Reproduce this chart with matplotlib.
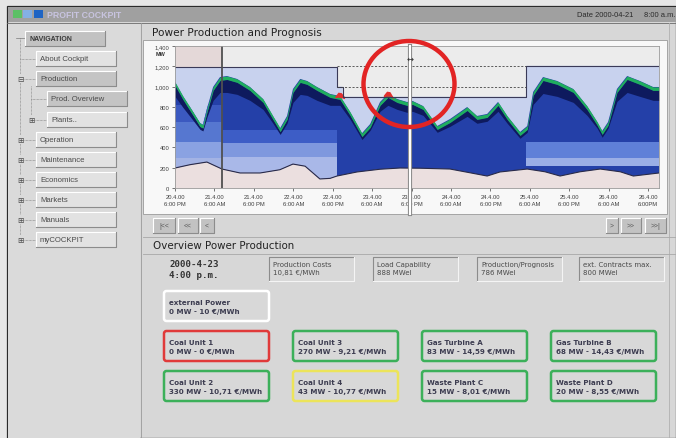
import matplotlib
matplotlib.use("Agg")
import matplotlib.pyplot as plt
from matplotlib.patches import Rectangle, Ellipse, FancyBboxPatch
import numpy as np

# ---- chart data (hours after 20.4.00 6:00 PM, MW) ----
top_t = [0.0, 2.4, 5.5, 7.6, 8.5, 9.7, 11.6, 13.7, 15.8, 18.9, 22.8, 26.8, 29.8, 32.0, 34.1,
         35.9, 38.1, 40.2, 43.2, 47.2, 50.2, 53.3, 56.9, 59.4, 62.4, 64.8, 67.6, 70.6, 72.3,
         75.5, 79.8, 83.7, 88.9, 91.9, 95.0, 98.3, 101.1, 105.0, 107.2, 109.0, 112.0, 116.3,
         121.2, 125.4, 128.5, 130.0, 131.8, 134.5, 137.6, 141.5, 145.5, 147.3]
top_mw = [1045, 907, 749, 640, 625, 779, 996, 1094, 1104, 1075, 996, 877, 710, 590, 710,
          976, 1075, 1055, 996, 927, 907, 749, 540, 631, 848, 927, 877, 848, 858,
          808, 611, 680, 798, 710, 730, 848, 710, 552, 611, 947, 1094, 1055,
          976, 808, 651, 562, 651, 976, 1104, 1055, 996, 996]
navy_mw = [110, 80, 50, 30, 30, 50, 100, 120, 130, 120, 100, 70, 40, 30, 40,
           100, 120, 110, 100, 80, 60, 40, 30, 30, 60, 80, 70, 70, 70,
           60, 30, 40, 60, 40, 40, 60, 40, 30, 30, 90, 130, 120,
           100, 60, 30, 30, 30, 90, 130, 120, 100, 100]
low_t = [0.0, 4.6, 9.7, 14.3, 19.8, 25.9, 31.9, 35.9, 39.6, 44.1, 47.2, 49.3, 55.4, 62.4,
         68.5, 74.5, 83.7, 89.8, 95.0, 98.9, 107.2, 112.6, 117.2, 123.3, 129.4, 135.5, 139.5, 147.3]
low_mw = [197, 230, 256, 187, 148, 148, 180, 236, 215, 89, 95, 118, 158, 185,
          197, 195, 187, 150, 118, 158, 187, 160, 118, 160, 187, 160, 118, 148]
cap_t = [0.0, 49.3, 49.3, 51.0, 51.0, 106.9, 106.9, 147.3]
cap_mw = [1190, 1190, 1000, 1000, 900, 900, 1205, 1205]
# constant unit bands inside the stack: start, end, from MW, to MW
band_t0 = [0.0, 0.0, 0.0, 0.0, 14.3, 14.3, 14.3, 106.9, 106.9]
band_t1 = [14.3, 14.3, 14.3, 14.3, 49.3, 49.3, 49.3, 147.3, 147.3]
band_lo = [0, 300, 450, 650, 0, 305, 440, 220, 300]
band_hi = [300, 450, 650, 820, 305, 440, 570, 300, 450]
band_col = ['#a3b3e4', '#8aa2e2', '#5677d0', '#3b59c0', '#a9b8e8', '#7f98de', '#3d5dc6',
            '#9aaee6', '#5f80d8']
red_t1 = [48.6, 49.6, 50.6, 51.6]
red_lo1 = [890, 895, 890, 880]
red_hi1 = [900, 945, 940, 900]
red_t2 = [63.4, 64.4, 65.4, 66.4]
red_lo2 = [900, 905, 905, 880]
red_hi2 = [915, 955, 950, 895]
now_t = 14.3
cursor_t = 71.5
tick_hours = [0, 12, 24, 36, 48, 60, 72, 84, 96, 108, 120, 132, 144]
tick_labels = ["20.4.00\n6:00 PM", "21.4.00\n6:00 AM", "21.4.00\n6:00 PM", "22.4.00\n6:00 AM",
               "22.4.00\n6:00 PM", "23.4.00\n6:00 AM", "23.4.00\n6:00 PM", "24.4.00\n6:00 AM",
               "24.4.00\n6:00 PM", "25.4.00\n6:00 AM", "25.4.00\n6:00 PM", "26.4.00\n6:00 AM",
               "26.4.00\n6:00PM"]
y_ticks = [0, 200, 400, 600, 800, 1000, 1200, 1400]

# ---- dashboard texts ----
nav_items = ["About Cockpit", "Production", "Prod. Overview", "Plants..", "Operation",
             "Maintenance", "Economics", "Markets", "Manuals", "myCOCKPIT"]
nav_level = [0, 0, 1, 1, 0, 0, 0, 0, 0, 0]
nav_dark = [False, True, True, False, False, False, False, False, False, False]
info_titles = ["Production Costs", "Load Capability", "Production/Prognosis", "ext. Contracts max."]
info_values = ["10,81 €/MWh", "888 MWel", "786 MWel", "800 MWel"]
units = ["Coal Unit 1", "Coal Unit 3", "Gas Turbine A", "Gas Turbine B",
         "Coal Unit 2", "Coal Unit 4", "Waste Plant C", "Waste Plant D"]
unit_mw = [0, 270, 83, 68, 330, 43, 15, 20]
unit_cost = ["0", "9,21", "14,59", "14,43", "10,71", "10,77", "8,01", "8,55"]
unit_state = ["red", "green", "green", "green", "green", "yellow", "green", "green"]
state_col = {"red": "#e03a3a", "green": "#3cb05a", "yellow": "#ece45a", "white": "#ffffff"}

W, H = 676, 439
fig = plt.figure(figsize=(W / 100, H / 100), dpi=100)
fig.patch.set_facecolor('#e6e6e6')

bg = fig.add_axes([0, 0, 1, 1], zorder=0)
bg.set_xlim(0, W)
bg.set_ylim(H, 0)
bg.axis('off')


def rect(a, x0, y0, x1, y1, fc, ec='none', lw=0.6, z=1):
    a.add_patch(Rectangle((x0, y0), x1 - x0, y1 - y0, fc=fc, ec=ec, lw=lw, zorder=z))


def box3d(a, x0, y0, x1, y1, fc, raised=True, z=2):
    rect(a, x0, y0, x1, y1, fc, z=z)
    hi, lo = ('#ffffff', '#8c8c8c') if raised else ('#8c8c8c', '#f4f4f4')
    a.plot([x0, x0, x1], [y1, y0, y0], color=hi, lw=0.8, zorder=z + 0.1)
    a.plot([x0, x1, x1], [y1, y1, y0], color=lo, lw=0.8, zorder=z + 0.1)


# frame + main areas
rect(bg, 7, 7, W, H, '#d7d7d7', ec='#2a2a2a', lw=0.9)
rect(bg, 7.5, 8, W, 23, '#a0a0a0')
bg.plot([7, W], [23.5, 23.5], color='#6a6a6a', lw=0.6)
rect(bg, 7.5, 24, 140, H, '#dadada')
bg.plot([140.5, 140.5], [24, H], color='#9a9a9a', lw=0.6)
for x0, c in zip([13, 23, 34], ['#5cc066', '#84b0e4', '#1e64c4']):
    rect(bg, x0, 11, x0 + 9, 19, c, z=2)
bg.text(47, 15.5, "PROFIT COCKPIT", fontsize=6.3, color='#c8c4e0', weight='bold',
        family='Liberation Sans', va='center')
bg.text(577, 15.5, "Date 2000-04-21     8:00 a.m.", fontsize=5.4, color='#2a2a2a',
        family='Liberation Sans', va='center')

# navigation
box3d(bg, 25, 32, 105, 47, '#c2c2c2')
bg.text(30, 39.5, "NAVIGATION", fontsize=5, weight='bold', color='#3a3a3a',
        family='Liberation Sans', va='center', zorder=3)
bg.plot([20, 20], [39, 240], color='#7a7a7a', lw=0.5, ls=(0, (1, 1)))
bg.plot([16, 25], [39, 39], color='#7a7a7a', lw=0.5)
bg.plot([31, 31], [87, 120], color='#7a7a7a', lw=0.5, ls=(0, (1, 1)))
tops = [52, 72, 92, 113, 133, 153, 173, 193, 213, 233]
for lab, lev, dark, yt in zip(nav_items, nav_level, nav_dark, tops):
    x0 = 36 if lev == 0 else 47
    yc = yt + 7.5
    box3d(bg, x0, yt, x0 + 80, yt + 15, '#c4c4c4' if dark else '#e2e2e2')
    bg.text(x0 + 4, yc, lab, fontsize=5.6, color='#4a4a4a', family='Liberation Sans',
            va='center', zorder=3)
    bg.plot([20 if lev == 0 else 31, x0], [yc, yc], color='#7a7a7a', lw=0.5, ls=(0, (1, 1)))
    sign = None
    if lab == "Production":
        sign = '⊟'
    elif lab == "Plants.." or (lev == 0 and lab != "About Cockpit"):
        sign = '⊞'
    if sign:
        bg.text(20 if lev == 0 else 31, yc, sign, fontsize=5.5, ha='center', va='center',
                color='#4a4a4a', zorder=3, bbox=dict(fc='#dadada', ec='none', pad=0))

# chart panel
bg.text(152, 33, "Power Production and Prognosis", fontsize=7.6, color='#222222',
        family='DejaVu Sans', va='center')
rect(bg, 143, 41, 667, 215, '#f8f8f8', ec='#9a9a9a', lw=0.6)
bg.plot([669, 669], [24, H], color='#b0b0b0', lw=0.6)
bg.text(156, 54, "MW", fontsize=4, weight='bold', color='#333333', va='center',
        family='Liberation Sans')
for (x0, x1), lab in zip([(153, 175), (178, 198), (200, 214), (606, 618), (621, 641), (645, 666)],
                         ["|<<", "<<", "<", ">", ">>", ">>|"]):
    box3d(bg, x0, 219, x1, 234, '#c2c2c2')
    bg.text((x0 + x1) / 2, 226.5, lab, fontsize=4.8, ha='center', va='center',
            color='#555555', zorder=3, family='Liberation Sans')
bg.plot([143, W], [237.5, 237.5], color='#a8a8a8', lw=0.6)
bg.text(153, 246, "Overview Power Production", fontsize=7.4, color='#222222', va='center',
        family='DejaVu Sans')
bg.plot([143, W], [254.5, 254.5], color='#a8a8a8', lw=0.6)

# overview
bg.text(169, 265, "2000-4-23", fontsize=6.6, weight='bold', color='#333333',
        family='DejaVu Sans Mono', va='center')
bg.text(169, 276, "4:00 p.m.", fontsize=6.6, weight='bold', color='#333333',
        family='DejaVu Sans Mono', va='center')
for x0, t1, t2 in zip([269, 373, 477, 579], info_titles, info_values):
    box3d(bg, x0, 258, x0 + 85, 282, '#d8d8d8', raised=False)
    bg.text(x0 + 4, 265, t1, fontsize=5, color='#4a4a4a', va='center', zorder=3)
    bg.text(x0 + 4, 273, t2, fontsize=5, color='#4a4a4a', va='center', zorder=3)


def unit_box(x0, y0, name, line2, col):
    bg.add_patch(FancyBboxPatch((x0, y0), 105, 30, boxstyle='round,pad=0,rounding_size=2.5',
                                fc='#d8d8d8', ec=col, lw=1.8, zorder=2))
    bg.text(x0 + 5, y0 + 11, name, fontsize=5.1, weight='bold', color='#3c3c50',
            va='center', zorder=3)
    bg.text(x0 + 5, y0 + 20, line2, fontsize=5.1, weight='bold', color='#3c3c50',
            va='center', zorder=3)


unit_box(164, 292, "external Power", "0 MW - 10 €/MWh", state_col["white"])
for i, (n, mw, c, s) in enumerate(zip(units, unit_mw, unit_cost, unit_state)):
    unit_box([164, 293, 422, 551][i % 4], [332, 372][i // 4], n, f"{mw} MW - {c} €/MWh",
             state_col[s])

# ---- the chart ----
ax = fig.add_axes([175 / W, 1 - 189 / H, 484 / W, 142 / H], zorder=1)
ax.set_facecolor('#ececec')
ax.set_xlim(0, 147.3)
ax.set_ylim(0, 1400)
ax.axvspan(0, now_t, color='#e4d8d8', lw=0)
ax.fill(low_t + cap_t[::-1], low_mw + cap_mw[::-1], color='#c8d2ee', lw=0)
ax.fill_between(low_t, 0, low_mw, color='#ebdfdf', lw=0)
stack = ax.fill(top_t + low_t[::-1], top_mw + low_mw[::-1], color='#2440a8', lw=0)[0]
for t0, t1, lo, hi, c in zip(band_t0, band_t1, band_lo, band_hi, band_col):
    b = ax.fill_between([t0, t1], [lo, lo], [hi, hi], color=c, lw=0)
    b.set_clip_path(stack)
tt = np.array(top_t)
tm = np.array(top_mw)
ax.fill_between(tt, tm - 32 - np.array(navy_mw), tm - 32, color='#0e1a5e', lw=0)
ax.fill_between(tt, tm - 34, tm, color='#1fae5e', lw=0)
ax.fill_between(red_t1, red_lo1, red_hi1, color='#e2302e', lw=0)
ax.fill_between(red_t2, red_lo2, red_hi2, color='#e2302e', lw=0)
ax.plot(cap_t, cap_mw, color='#3a3a58', lw=0.8)
ax.plot(low_t, low_mw, color='#2a2a48', lw=0.8)
ax.hlines([1200, 1000], 49.3, 106.9, colors='#444444', lw=0.6, linestyles=(0, (2.5, 2)))
ax.axvline(now_t, color='#505050', lw=1.3)
ax.plot([cursor_t, cursor_t], [-255, 1400], color='#8a8a8a', lw=3, clip_on=False, zorder=5)
ax.plot([cursor_t, cursor_t], [-255, 1400], color='#ffffff', lw=1.5, clip_on=False, zorder=6)
ax.set_xticks(tick_hours)
ax.set_xticklabels(tick_labels, fontsize=4.2, family='Liberation Sans', linespacing=1.6)
ax.set_yticks(y_ticks)
ax.set_yticklabels([f"{v:,}" for v in y_ticks], fontsize=4.2, family='Liberation Sans')
ax.tick_params(colors='#404040', length=2.5, width=0.5, pad=1.5)
for sp in ax.spines.values():
    sp.set_color('#9a9a9a')
    sp.set_linewidth(0.6)

# overlay marks
ov = fig.add_axes([0, 0, 1, 1], zorder=5)
ov.set_xlim(0, W)
ov.set_ylim(H, 0)
ov.axis('off')
ov.patch.set_alpha(0)
ov.text(410, 59, "↔", fontsize=6, ha='center', va='center', color='#303030')
ov.add_patch(Ellipse((409, 85), 91, 86, fc='none', ec='#e22424', lw=3.2))

fig.savefig("out.png", dpi=100)
